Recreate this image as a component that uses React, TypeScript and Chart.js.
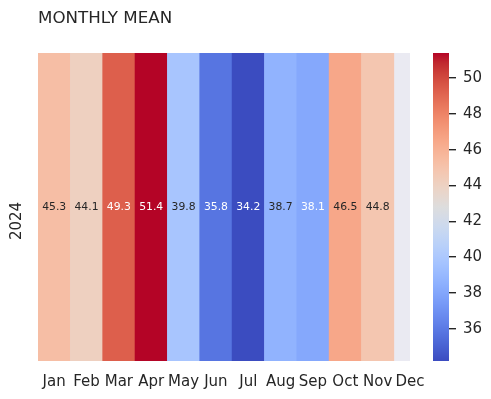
import React, { useEffect, useRef } from "react";
import { Chart, registerables } from "chart.js";

Chart.register(...registerables);

const months = ["Jan", "Feb", "Mar", "Apr", "May", "Jun", "Jul", "Aug", "Sep", "Oct", "Nov", "Dec"];
const yearLabel = "2024";
const monthlyMean: (number | null)[] = [45.3, 44.1, 49.3, 51.4, 39.8, 35.8, 34.2, 38.7, 38.1, 46.5, 44.8, null];
const colorbarTicks = [36, 38, 40, 42, 44, 46, 48, 50];
const titleText = "MONTHLY MEAN";

// coolwarm (Moreland) control points
const coolwarm: number[][] = [
  [59, 76, 192], [68, 90, 204], [77, 104, 215], [87, 117, 225], [98, 130, 234],
  [108, 142, 241], [119, 154, 247], [130, 165, 251], [141, 176, 254], [152, 185, 255],
  [163, 194, 255], [174, 201, 253], [184, 208, 249], [194, 213, 244], [204, 217, 238],
  [213, 219, 230], [221, 221, 221], [229, 216, 209], [236, 211, 197], [241, 204, 185],
  [245, 196, 173], [247, 187, 160], [247, 177, 148], [247, 166, 135], [244, 154, 123],
  [241, 141, 111], [236, 127, 99], [229, 112, 88], [222, 96, 77], [213, 80, 66],
  [203, 62, 56], [192, 40, 47], [180, 4, 38],
];

const FONT = "'DejaVu Sans', sans-serif";
const TEXT = "#262626";

const nums = monthlyMean.filter((v): v is number => v != null);
const vmin = Math.min(...nums);
const vmax = Math.max(...nums);

function cmapRGB(t: number): number[] {
  const tt = Math.max(0, Math.min(1, t)) * (coolwarm.length - 1);
  const i = Math.min(Math.floor(tt), coolwarm.length - 2);
  const f = tt - i;
  const a = coolwarm[i], b = coolwarm[i + 1];
  return [0, 1, 2].map((k) => Math.round(a[k] + (b[k] - a[k]) * f));
}
function rgbStr(c: number[]) {
  return `rgb(${c[0]},${c[1]},${c[2]})`;
}
function luminance(c: number[]) {
  const lin = c.map((v) => {
    const s = v / 255;
    return s <= 0.03928 ? s / 12.92 : Math.pow((s + 0.055) / 1.055, 2.4);
  });
  return 0.2126 * lin[0] + 0.7152 * lin[1] + 0.0722 * lin[2];
}

const cellData = monthlyMean
  .map((v, i) => (v == null ? null : { x: i, y: [0, 1], v }))
  .filter((d): d is { x: number; y: number[]; v: number } => d != null);
const cellColors = cellData.map((d) => cmapRGB((d.v - vmin) / (vmax - vmin)));

export default function App() {
  const mainRef = useRef<HTMLCanvasElement>(null);
  const cbRef = useRef<HTMLCanvasElement>(null);

  useEffect(() => {
    if (!mainRef.current || !cbRef.current) return;

    const bgPlugin = {
      id: "bg",
      beforeDatasetsDraw(chart: any) {
        const { ctx, chartArea } = chart;
        ctx.save();
        ctx.fillStyle = "#eaeaf2";
        ctx.fillRect(chartArea.left, chartArea.top, chartArea.right - chartArea.left, chartArea.bottom - chartArea.top);
        ctx.restore();
      },
    };
    const annotPlugin = {
      id: "annot",
      afterDatasetsDraw(chart: any) {
        const { ctx } = chart;
        const meta = chart.getDatasetMeta(0);
        ctx.save();
        ctx.font = `10.8px ${FONT}`;
        ctx.textAlign = "center";
        ctx.textBaseline = "middle";
        meta.data.forEach((el: any, i: number) => {
          const { x, y, base } = el.getProps(["x", "y", "base"], true);
          const c = cellColors[i];
          ctx.fillStyle = luminance(c) > 0.408 ? TEXT : "#ffffff";
          ctx.fillText(cellData[i].v.toFixed(1), x, (y + base) / 2);
        });
        ctx.restore();
      },
    };
    // row (year) label of the heatmap, drawn rotated like matplotlib's tick label
    const rowLabelPlugin = {
      id: "rowLabel",
      afterDraw(chart: any) {
        const { ctx } = chart;
        const ys = chart.scales.y;
        const cy = ys.getPixelForValue(0.5) + 14;
        ctx.save();
        ctx.translate(ys.left + 9, cy);
        ctx.rotate(-Math.PI / 2);
        ctx.font = `15px ${FONT}`;
        ctx.fillStyle = TEXT;
        ctx.textAlign = "center";
        ctx.textBaseline = "middle";
        ctx.fillText(yearLabel, 0, 0);
        ctx.restore();
      },
    };

    const main = new Chart(mainRef.current, {
      type: "bar",
      data: {
        datasets: [
          {
            data: cellData as any,
            backgroundColor: cellColors.map(rgbStr),
            borderWidth: 0,
            barPercentage: 1,
            categoryPercentage: 1,
          },
        ],
      },
      options: {
        responsive: false,
        animation: false,
        events: [],
        layout: { padding: { left: 0, right: 73, top: 0, bottom: 0 } },
        plugins: {
          legend: { display: false },
          tooltip: { enabled: false },
          title: {
            display: true,
            text: titleText,
            align: "start",
            fullSize: false,
            color: TEXT,
            font: { family: FONT, size: 16.7, weight: "normal" },
            padding: { top: 1, bottom: 24 },
          },
        },
        scales: {
          x: {
            type: "linear",
            min: -0.5,
            max: 11,
            offset: false,
            grid: { display: false, drawTicks: false },
            border: { display: false },
            afterBuildTicks: (s: any) => {
              s.ticks = months.map((_, i) => ({ value: i }));
            },
            afterFit: (s: any) => {
              s.height = 30;
            },
            ticks: {
              autoSkip: false,
              maxRotation: 0,
              minRotation: 0,
              padding: 12,
              color: TEXT,
              font: { family: FONT, size: 15 },
              callback: (v: any) => months[v as number] ?? "",
            },
          },
          y: {
            type: "linear",
            min: 0,
            max: 1,
            grid: { display: false, drawTicks: false },
            border: { display: false },
            ticks: { display: false },
            afterFit: (s: any) => {
              s.width = 30;
            },
          },
        },
      },
      plugins: [bgPlugin, annotPlugin, rowLabelPlugin],
    });

    const cb = new Chart(cbRef.current, {
      type: "bar",
      data: {
        labels: ["cb"],
        datasets: [
          {
            data: [[vmin, vmax]] as any,
            borderWidth: 0,
            barPercentage: 1,
            categoryPercentage: 1,
            backgroundColor: (ctx: any) => {
              const chart = ctx.chart;
              if (!chart.chartArea) return "transparent";
              const ys = chart.scales.y;
              const g = chart.ctx.createLinearGradient(0, ys.getPixelForValue(vmin), 0, ys.getPixelForValue(vmax));
              coolwarm.forEach((c, i) => g.addColorStop(i / (coolwarm.length - 1), rgbStr(c)));
              return g;
            },
          },
        ],
      },
      options: {
        responsive: false,
        animation: false,
        events: [],
        layout: { padding: { left: 0, right: 0, top: 45, bottom: 30 } },
        plugins: { legend: { display: false }, tooltip: { enabled: false } },
        scales: {
          x: { type: "category", display: false },
          y: {
            type: "linear",
            position: "right",
            min: vmin,
            max: vmax,
            afterBuildTicks: (s: any) => {
              s.ticks = colorbarTicks.map((v) => ({ value: v }));
            },
            afterFit: (s: any) => {
              s.width = 42;
            },
            grid: { drawOnChartArea: false, drawTicks: true, tickLength: 7, color: TEXT, lineWidth: 1.4 },
            border: { display: false },
            ticks: { padding: 7, color: TEXT, font: { family: FONT, size: 15 } },
          },
        },
      },
    });

    return () => {
      main.destroy();
      cb.destroy();
    };
  }, []);

  return (
    <div style={{ position: "relative", width: 475, height: 383 }}>
      <canvas ref={mainRef} width={475} height={383} style={{ position: "absolute", left: 0, top: 0 }} />
      <canvas ref={cbRef} width={58} height={383} style={{ position: "absolute", left: 425, top: 0 }} />
    </div>
  );
}
